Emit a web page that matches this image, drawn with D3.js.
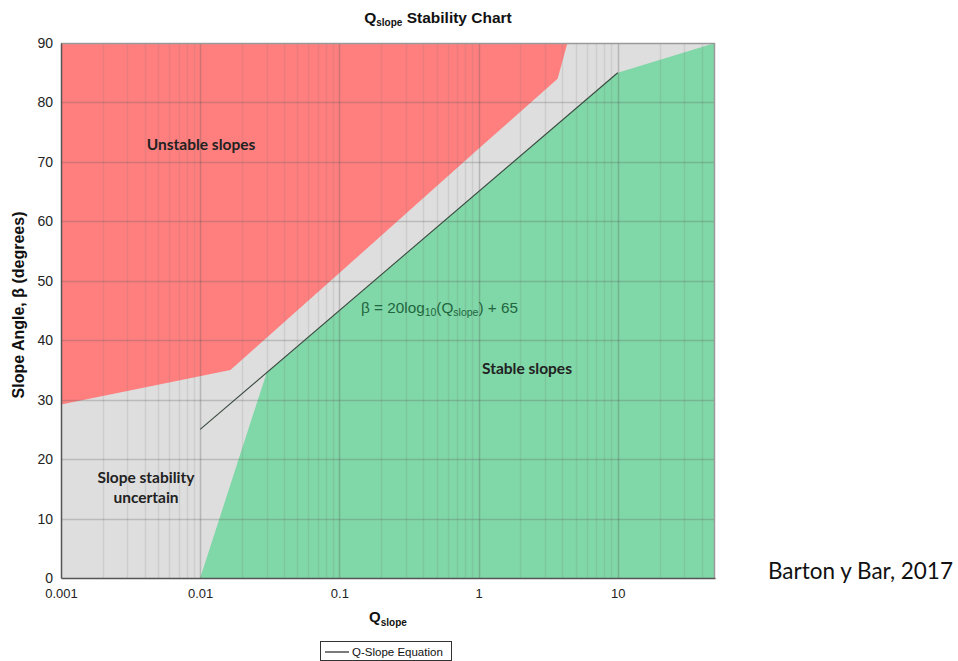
<!DOCTYPE html>
<html><head><meta charset="utf-8">
<script src="https://cdn.jsdelivr.net/npm/d3@7"></script>
<style>body{margin:0;background:#fff}svg{display:block}</style>
</head><body>
<svg id="c" width="958" height="661"></svg>
<script>
// ---- data ----
const xTicks = [0.001, 0.01, 0.1, 1, 10];
const xTickLabels = ["0.001", "0.01", "0.1", "1", "10"];
const yTicks = [0, 10, 20, 30, 40, 50, 60, 70, 80, 90];
// Unstable (red) region boundary
const redQ = [0.001, 0.001, 0.0165, 0.1, 1, 3.7, 4.35];
const redBeta = [90, 29.2, 35, 51.3, 72.2, 84, 90];
// Stable (green) region boundary
const greenQ = [0.01, 0.03, 1, 10, 50, 50];
const greenBeta = [0, 34.5, 65, 85, 90, 0];
// Q-slope equation line: beta = 20 log10(Q) + 65
const eqQ = [0.01, 10];
const eqBeta = [25, 85];

const svg = d3.select("#c");
const L = 61, R = 715, T = 43, B = 578;
const x = d3.scaleLog().domain([0.001, 50]).range([L, R]);
const y = d3.scaleLinear().domain([0, 90]).range([B, T]);

// background
svg.append("rect").attr("x", L).attr("y", T).attr("width", R - L).attr("height", B - T).attr("fill", "#dedede");

const line = d3.line().x(d => x(d[0])).y(d => y(d[1]));
svg.append("path").attr("d", line(redQ.map((q, i) => [q, redBeta[i]])) + "Z").attr("fill", "#ff7f7f");
svg.append("path").attr("d", line(greenQ.map((q, i) => [q, greenBeta[i]])) + "Z").attr("fill", "#80d7a7");

// grid
const minor = [];
for (let e = -3; e <= 1; e++) for (let m = 2; m <= 9; m++) { const v = m * Math.pow(10, e); if (v < 50) minor.push(v); }
const g = svg.append("g");
g.selectAll(".mn").data(minor).join("line")
  .attr("x1", d => Math.round(x(d)) + 0.5).attr("x2", d => Math.round(x(d)) + 0.5)
  .attr("y1", T).attr("y2", B).attr("stroke", "rgba(110,110,110,0.15)").attr("stroke-width", 1.5);
g.selectAll(".mj").data(xTicks.slice(1)).join("line")
  .attr("x1", d => Math.round(x(d)) + 0.5).attr("x2", d => Math.round(x(d)) + 0.5)
  .attr("y1", T).attr("y2", B).attr("stroke", "rgba(90,90,90,0.3)").attr("stroke-width", 1.5);
g.selectAll(".hy").data(yTicks.slice(1, -1)).join("line")
  .attr("x1", L).attr("x2", R)
  .attr("y1", d => Math.round(y(d)) + 0.5).attr("y2", d => Math.round(y(d)) + 0.5)
  .attr("stroke", "rgba(90,90,90,0.27)").attr("stroke-width", 1.5);

// equation line
svg.append("path").attr("d", line(eqQ.map((q, i) => [q, eqBeta[i]])))
  .attr("fill", "none").attr("stroke", "#3a4a40").attr("stroke-width", 1.1);

// frame
svg.append("line").attr("x1", L).attr("x2", R).attr("y1", T + 0.5).attr("y2", T + 0.5).attr("stroke", "#9a9a9a").attr("stroke-width", 1.5);
svg.append("line").attr("x1", R - 0.5).attr("x2", R - 0.5).attr("y1", T).attr("y2", B).attr("stroke", "#9a9a9a").attr("stroke-width", 1.5);

// axes
const xa = svg.append("g").attr("transform", `translate(0,${B})`)
  .call(d3.axisBottom(x).tickValues(xTicks).tickFormat((d, i) => xTickLabels[i]).tickSize(0).tickPadding(8));
const ya = svg.append("g").attr("transform", `translate(${L},0)`)
  .call(d3.axisLeft(y).tickValues(yTicks).tickSize(0).tickPadding(8));
[xa, ya].forEach(a => {
  a.select(".domain").attr("stroke", "#555").attr("stroke-width", 1.5);
  a.selectAll("text").attr("font-family", "Liberation Sans, Arial, sans-serif").attr("font-size", 13).attr("fill", "#222");
});
xa.selectAll("text").attr("dy", "0.9em");
ya.selectAll("text").attr("font-size", 14);

// title
const ti = svg.append("text").attr("x", 438).attr("y", 23).attr("text-anchor", "middle")
  .attr("font-family", "Liberation Sans, Arial, sans-serif").attr("font-weight", "bold").attr("font-size", 15.5).attr("fill", "#111");
ti.append("tspan").text("Q");
ti.append("tspan").attr("font-size", 10).attr("dy", 3).text("slope");
ti.append("tspan").attr("dy", -3).text(" Stability Chart");

// x label
const xl = svg.append("text").attr("x", 388).attr("y", 622).attr("text-anchor", "middle")
  .attr("font-family", "Liberation Sans, Arial, sans-serif").attr("font-weight", "bold").attr("font-size", 15).attr("fill", "#111");
xl.append("tspan").text("Q");
xl.append("tspan").attr("font-size", 10).attr("dy", 4).text("slope");

// y label
svg.append("text").attr("transform", "translate(24,305) rotate(-90)").attr("text-anchor", "middle")
  .attr("font-family", "Liberation Sans, Arial, sans-serif").attr("font-weight", "bold").attr("font-size", 16).attr("fill", "#111")
  .text("Slope Angle, β (degrees)");

// region labels
const lab = (t, px, py) => svg.append("text").attr("x", px).attr("y", py).attr("text-anchor", "middle")
  .attr("font-family", "Lato, Carlito, sans-serif").attr("font-weight", "bold").attr("font-size", 15.5).attr("fill", "#222").text(t);
lab("Unstable slopes", 201, 150);
lab("Slope stability", 146, 483);
lab("uncertain", 146, 503);
lab("Stable slopes", 527, 374);

// equation text
const eq = svg.append("text").attr("x", 361).attr("y", 313)
  .attr("font-family", "Liberation Sans, Arial, sans-serif").attr("font-size", 15.3).attr("fill", "#22663f");
eq.append("tspan").text("β = 20log");
eq.append("tspan").attr("font-size", 10.5).attr("dy", 3).text("10");
eq.append("tspan").attr("dy", -3).text("(Q");
eq.append("tspan").attr("font-size", 10.5).attr("dy", 3).text("slope");
eq.append("tspan").attr("dy", -3).text(") + 65");

// legend
svg.append("rect").attr("x", 320.5).attr("y", 641.5).attr("width", 131).attr("height", 19)
  .attr("fill", "#fff").attr("stroke", "#333").attr("stroke-width", 1);
svg.append("line").attr("x1", 325).attr("x2", 349).attr("y1", 652).attr("y2", 652).attr("stroke", "#222").attr("stroke-width", 1.2);
svg.append("text").attr("x", 352).attr("y", 656).attr("font-family", "Liberation Sans, Arial, sans-serif")
  .attr("font-size", 11.5).attr("fill", "#111").text("Q-Slope Equation");

// source
svg.append("text").attr("x", 768).attr("y", 579).attr("font-family", "Lato, Carlito, sans-serif")
  .attr("font-size", 22.5).attr("fill", "#111").text("Barton y Bar, 2017");
</script>
</body></html>
